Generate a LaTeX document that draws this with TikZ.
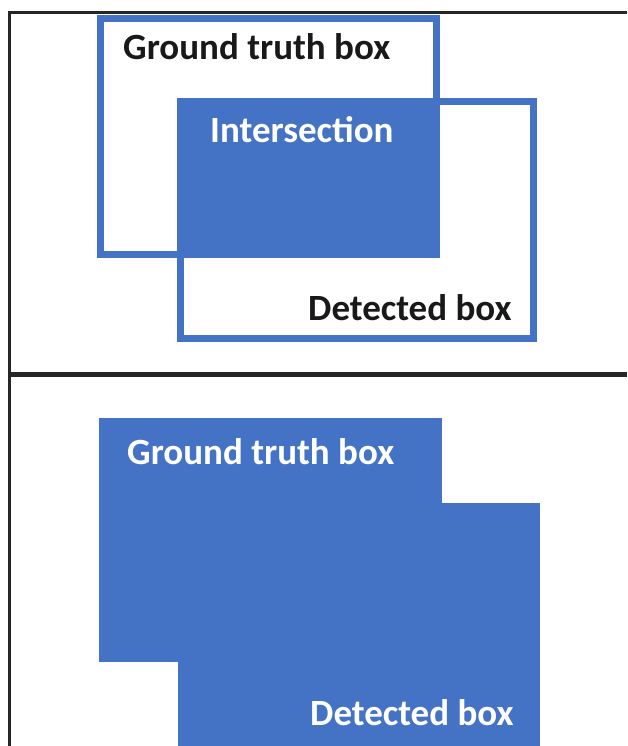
\documentclass[tikz,border=0pt]{standalone}
\usepackage{fontspec}
\setmainfont{Carlito}
\definecolor{boxblue}{HTML}{4472C4}
\tikzset{
  frameline/.style={draw=black!85, line width=3pt},
  outlinebox/.style={draw=boxblue, line width=7pt},
  fillbox/.style={fill=boxblue},
  lbl/.style={inner sep=0pt, anchor=base west, font=\fontsize{37}{42}\selectfont\bfseries},
  darklbl/.style={lbl, text=black!90},
  lightlbl/.style={lbl, text=white},
}
\begin{document}
\begin{tikzpicture}[x=1pt, y=-1pt]
  \useasboundingbox (0,0) rectangle (627,746);
  \fill[white] (0,0) rectangle (627,746);

  % outer frame and divider between the two panels
  \draw[frameline] (627,13) -- (9.5,13) -- (9.5,746);
  \draw[draw=black!85, line width=5pt] (9.5,374) -- (627,374);

  % upper panel: two outlined boxes with filled overlap
  \fill[fillbox] (177,98) rectangle (440,258);
  \draw[outlinebox] (100.5,18.5) rectangle (436.5,254.5);
  \draw[outlinebox] (180.5,101.5) rectangle (533.5,338.5);
  \node[darklbl] (gt1) at (123,60) {Ground truth box};
  \node[lightlbl] (ix) at (210,143) {Intersection};
  \node[darklbl] (det1) at (308,320) {Detected box};

  % lower panel: union of the two boxes
  \fill[fillbox] (99,418) rectangle (442,662);
  \fill[fillbox] (178,503) rectangle (540,746);
  \node[lightlbl] (gt2) at (127,464) {Ground truth box};
  \node[lightlbl] (det2) at (310,725) {Detected box};
\end{tikzpicture}
\end{document}
